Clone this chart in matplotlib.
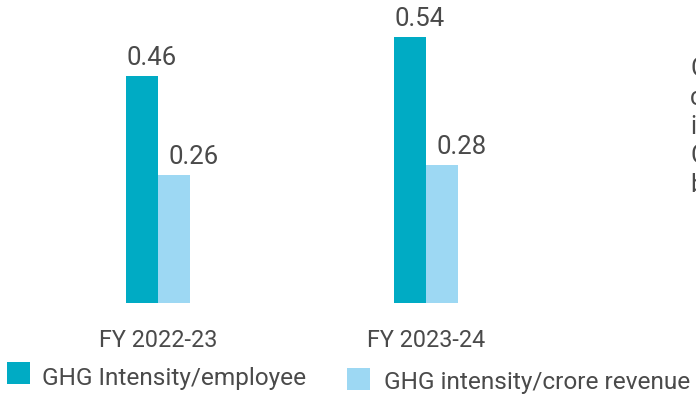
import matplotlib
matplotlib.use("Agg")
import matplotlib.pyplot as plt
from matplotlib.patches import Rectangle
import numpy as np

# Data
years = ["FY 2022-23", "FY 2023-24"]
per_employee = [0.46, 0.54]
per_crore_revenue = [0.26, 0.28]
series_names = ["GHG Intensity/employee", "GHG intensity/crore revenue"]
side_text = ["C", "c", "i", "C", "b"]

DARK = "#00abc4"
LIGHT = "#9dd8f3"
TEXT = "#4a4a4a"

plt.rcParams["font.family"] = ["Roboto", "DejaVu Sans"]

W, H, DPI = 696, 400, 100
fig = plt.figure(figsize=(W / DPI, H / DPI), dpi=DPI)

# Axes spans the full width; baseline sits 97 px above the bottom edge
base_px = 303
ax = fig.add_axes([0, (H - base_px) / H, 1, base_px / H])

px_per_group = 268.0
bar_w = 32 / px_per_group
x = np.arange(len(years))
ax.set_xlim(-158 / px_per_group, (W - 158) / px_per_group)
ax.set_ylim(0, base_px / 493.0)

b1 = ax.bar(x - bar_w / 2, per_employee, width=bar_w, color=DARK, linewidth=0)
b2 = ax.bar(x + bar_w / 2, per_crore_revenue, width=bar_w, color=LIGHT, linewidth=0)

fs = 18
px = 72.0 / DPI  # points per pixel

for rect, v in zip(b1, per_employee):
    ax.annotate(f"{v:.2f}", xy=(rect.get_x(), v), xytext=(0, 11 * px),
                textcoords="offset points", ha="left", va="baseline",
                fontsize=18.5, color=TEXT)
for rect, v in zip(b2, per_crore_revenue):
    ax.annotate(f"{v:.2f}", xy=(rect.get_x(), v), xytext=(10 * px, 11 * px),
                textcoords="offset points", ha="left", va="baseline",
                fontsize=18.5, color=TEXT)

ax.set_xticks(x, years)
ax.tick_params(axis="x", length=0, pad=26 * px, labelsize=16.8, labelcolor=TEXT)
ax.set_yticks([])
for s in ax.spines.values():
    s.set_visible(False)
ax.patch.set_visible(False)

# Legend swatches and labels
legend_items = [
    (7, 362, 42, 385, DARK, series_names[0]),
    (347, 368, 384, 389, LIGHT, series_names[1]),
]
for sx, sy, tx, ty, col, label in legend_items:
    fig.add_artist(Rectangle((sx / W, (H - sy - 22) / H), 23 / W, 22 / H,
                             transform=fig.transFigure, color=col, linewidth=0))
    fig.text(tx / W, (H - ty) / H, label, ha="left", va="baseline",
             fontsize=17.6, color=TEXT)

# Paragraph text running off the right edge
for i, ch in enumerate(side_text):
    fig.text(690 / W, (H - (76 + 29 * i)) / H, ch, ha="left", va="baseline",
             fontsize=fs, color=TEXT)

fig.savefig("out.png", dpi=DPI)
